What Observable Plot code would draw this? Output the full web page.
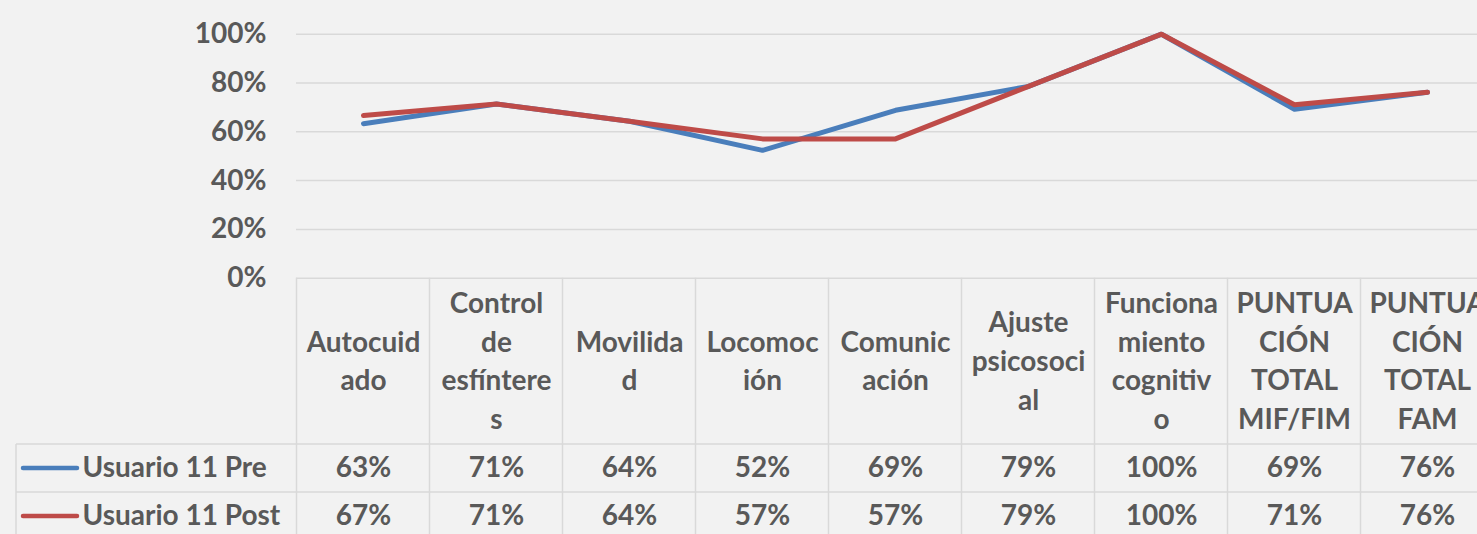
<!DOCTYPE html>
<html><head><meta charset="utf-8">
<script src="https://cdn.jsdelivr.net/npm/d3@7"></script>
<script src="https://cdn.jsdelivr.net/npm/@observablehq/plot@0.6"></script>
<style>
html,body{margin:0;padding:0;background:#f2f2f2;overflow:hidden}
</style></head><body><div id="chart"></div>
<script>
const categories = ["Autocuidado","Control de esfínteres","Movilidad","Locomoción","Comunicación","Ajuste psicosocial","Funcionamiento cognitivo","PUNTUACIÓN TOTAL MIF/FIM","PUNTUACIÓN TOTAL FAM"];
const headerLabels = ["Autocuid\nado","Control\nde\nesfíntere\ns","Movilida\nd","Locomoc\nión","Comunic\nación","Ajuste\npsicosoci\nal","Funciona\nmiento\ncognitiv\no","PUNTUA\nCIÓN\nTOTAL\nMIF/FIM","PUNTUA\nCIÓN\nTOTAL\nFAM"];
const seriesNames = ["Usuario 11 Pre","Usuario 11 Post"];
const preValues = [0.633,0.714,0.643,0.524,0.688,0.786,1.0,0.692,0.762];
const postValues = [0.667,0.714,0.643,0.571,0.571,0.786,1.0,0.711,0.762];
const yTicks = [0,0.2,0.4,0.6,0.8,1];
const colors = ["#4a7ebb","#be4b48"];

const data = [];
categories.forEach((c,i)=>{
  data.push({series:seriesNames[0],category:c,value:preValues[i]});
  data.push({series:seriesNames[1],category:c,value:postValues[i]});
});
const pct = v => Math.round(v*100) + "%";
const W = 1477, H = 534;
const textColor = "#595959";
const fs = 28;
const gridColor = "#d9d9d9";

const plot = Plot.plot({
  width: W, height: H,
  marginLeft: 296, marginRight: 0, marginTop: 0, marginBottom: 256,
  style: {background:"#f2f2f2", fontFamily:"Lato, 'Open Sans', sans-serif", fontWeight:"bold", color:textColor, overflow:"hidden"},
  x: {type:"point", domain: categories, range:[362,1427], padding:0, axis:null},
  y: {domain:[0,1], range:[277.7,33.7], axis:null},
  color: {domain: seriesNames, range: colors},
  marks: [
    Plot.ruleY(yTicks, {stroke:gridColor, strokeWidth:1.5}),
    Plot.axisY({ticks:yTicks, tickFormat: d3.format(".0%"), tickSize:0, tickPadding:30, fontSize:fs, color:textColor, fontWeight:"bold", label:null}),
    Plot.line(data, {x:"category", y:"value", stroke:"series", strokeWidth:5, strokeLinecap:"round", strokeLinejoin:"round"}),
    Plot.text(categories, {x:d=>d, text:(d,i)=>headerLabels[i], frameAnchor:"bottom", lineAnchor:"middle", dy:80, lineHeight:1.39, fontSize:fs, fill:textColor, fontWeight:"bold"}),
    Plot.text(categories, {x:d=>d, text:(d,i)=>pct(preValues[i]), frameAnchor:"bottom", lineAnchor:"middle", dy:190, fontSize:fs, fill:textColor, fontWeight:"bold"}),
    Plot.text(categories, {x:d=>d, text:(d,i)=>pct(postValues[i]), frameAnchor:"bottom", lineAnchor:"middle", dy:238, fontSize:fs, fill:textColor, fontWeight:"bold"}),
    Plot.text([seriesNames[0]], {text:d=>d, frameAnchor:"bottom-left", textAnchor:"start", lineAnchor:"middle", dx:-214, dy:190, fontSize:fs, fill:textColor, fontWeight:"bold"}),
    Plot.text([seriesNames[1]], {text:d=>d, frameAnchor:"bottom-left", textAnchor:"start", lineAnchor:"middle", dx:-214, dy:238, fontSize:fs, fill:textColor, fontWeight:"bold"})
  ]
});

// Data-table grid lines and legend keys (layout), positioned with Plot's x scale
const svg = d3.select(plot);
const xs = plot.scale("x");
const centers = categories.map(c => xs.apply(c));
const step = centers[1] - centers[0];
const g = svg.insert("g", ":first-child").attr("stroke", gridColor).attr("stroke-width", 1.5);
const tableTop = 277.7, row1 = 444, row2 = 492, tableLeft = 16;
centers.forEach(cx => {
  g.append("line").attr("x1", cx - step/2).attr("x2", cx - step/2).attr("y1", tableTop).attr("y2", H);
});
g.append("line").attr("x1", tableLeft).attr("x2", tableLeft).attr("y1", row1).attr("y2", H);
[row1, row2].forEach(y => g.append("line").attr("x1", tableLeft).attr("x2", W).attr("y1", y).attr("y2", y));
[468, 516].forEach((y, i) => {
  svg.append("line").attr("x1", 23).attr("x2", 77).attr("y1", y).attr("y2", y)
    .attr("stroke", colors[i]).attr("stroke-width", 4.5).attr("stroke-linecap", "round");
});
document.getElementById("chart").appendChild(plot);
</script></body></html>
